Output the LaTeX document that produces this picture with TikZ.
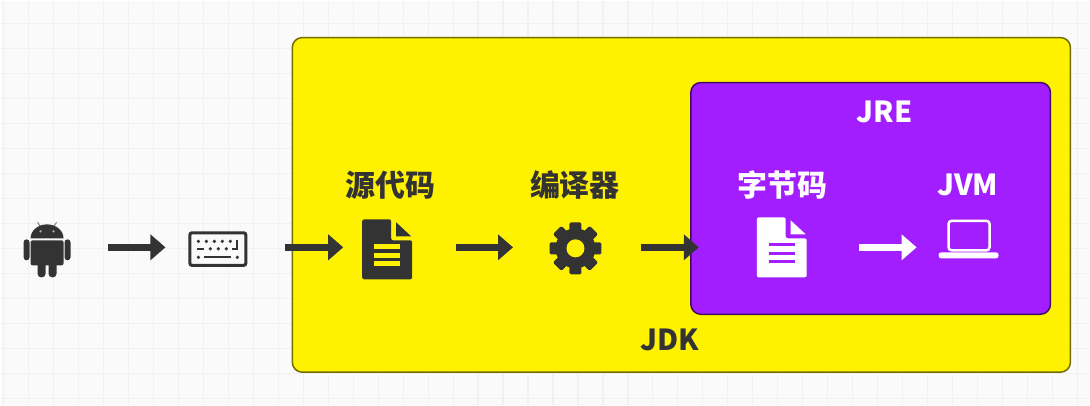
\documentclass[tikz,border=0pt]{standalone}
\usepackage{fontspec}
\newfontfamily\cjkfont{Noto Sans CJK SC}
\usetikzlibrary{arrows.meta}

\definecolor{gridbg}{HTML}{FAFAFA}
\definecolor{gridline}{HTML}{F1F1F1}
\definecolor{jdkyellow}{HTML}{FFF200}
\definecolor{jrepurple}{HTML}{A21EFF}
\definecolor{icondark}{HTML}{333333}

\tikzset{
  iconbox/.style={inner sep=0pt, outer sep=0pt, minimum height=10pt},
  boxlabel/.style={font=\cjkfont\bfseries\fontsize{30}{32}\selectfont, inner sep=0pt},
  namelabel/.style={font=\cjkfont\bfseries\fontsize{29}{31}\selectfont, inner sep=0pt},
  flowarrow/.style 2 args={line width=6.5pt, -{Triangle[length=15pt,width=25pt]},
        shorten <=#1pt, shorten >=#2pt},
}

% sheet of paper: origin, colour, colour of lines, width of lines
\newcommand{\docicon}[4]{
  \begin{scope}[shift={(#1)}]
    \fill[#2, rounded corners=2pt] (0,0) -- (29,0) -- (29,21) -- (50,21) -- (50,60) -- (0,60) -- cycle;
    \fill[#2] (34,3) -- (49,17) -- (34,17) -- cycle;
    \foreach \y in {27.5,36,44.5}
      \draw[#3, line width=#4pt] (12,\y) -- (38,\y);
  \end{scope}
}

\begin{document}
\begin{tikzpicture}[x=1pt, y=-1pt]
  \fill[gridbg] (0,0) rectangle (1090,405);

  % Grid
  \foreach \x in {3,28,...,1090}
    \draw[gridline, line width=1.2pt] (\x,0) -- (\x,405);
  \foreach \y in {23,48,...,405}
    \draw[gridline, line width=1.2pt] (0,\y) -- (1090,\y);

  % Boxes
  \draw[jdkyellow!45!black, fill=jdkyellow, line width=1.5pt, rounded corners=10pt]
        (292,37) rectangle (1071,372);
  \draw[jrepurple!40!black, fill=jrepurple, line width=1.5pt, rounded corners=10pt]
        (691,82) rectangle (1051,314);

  % Icon places
  \node[iconbox, minimum width=47pt] (android) at (46.5,247) {};
  \node[iconbox, minimum width=59pt] (keyboard) at (217.5,247) {};
  \node[iconbox, minimum width=50pt] (source) at (387,247) {};
  \node[iconbox, minimum width=51pt] (compiler) at (575.5,247) {};
  \node[iconbox, minimum width=52pt] (bytecode) at (783,247) {};
  \node[iconbox, minimum width=60pt] (jvm) at (969,247) {};

  % Labels
  \node[boxlabel, text=icondark] (sourcelabel) at (390,185) {源代码};
  \node[boxlabel, text=icondark] (compilerlabel) at (575,185) {编译器};
  \node[boxlabel, text=white] (bytecodelabel) at (783,185) {字节码};
  \node[namelabel, text=white] (jvmlabel) at (968,185) {JVM};
  \node[namelabel, text=white] (jrelabel) at (885,111) {JRE};
  \node[namelabel, text=icondark] (jdklabel) at (670,340) {JDK};

  % Android
  \draw[gray, line width=1pt] (37,222) -- (41,228);
  \draw[gray, line width=1pt] (56,222) -- (52,228);
  \fill[icondark] (30,238) arc[start angle=180, end angle=360, x radius=16.5, y radius=14] -- cycle;
  \fill[gray!70] (40,231) circle (1.3) (53,231) circle (1.3);
  \fill[icondark, rounded corners=2pt] (30,240) -- (63,240) -- (63,265) -- (30,265) -- cycle;
  \fill[icondark, rounded corners=3pt] (23,239) rectangle (29,260);
  \fill[icondark, rounded corners=3pt] (64,239) rectangle (70,260);
  \fill[icondark, rounded corners=3.5pt] (37,260) rectangle (45,277);
  \fill[icondark, rounded corners=3.5pt] (48,260) rectangle (56,277);

  % Keyboard
  \draw[icondark, fill=gridbg, line width=3pt, rounded corners=2pt] (189.5,232.5) rectangle (245.5,265);
  \foreach \x in {198,206,214,222,230}
    \fill[icondark] (\x,241) circle (1.8);
  \foreach \x in {210,218,226}
    \fill[icondark] (\x,248.5) circle (1.8);
  \fill[icondark] (198,257) circle (1.8) (237,257) circle (1.8);
  \draw[icondark, line width=2.2pt] (197,248.5) -- (204,248.5);
  \draw[icondark, line width=2.2pt] (204,257) -- (231,257);
  \draw[icondark, line width=2.2pt] (237,240) -- (237,248.5) -- (232,248.5);

  % Papers
  \docicon{362,219}{icondark}{jdkyellow}{5}
  \docicon{757,217}{white}{jrepurple}{3}

  % Gear
  \fill[icondark] (575.5,248) circle (20);
  \foreach \a in {0,45,...,315}
    \fill[icondark, rotate around={\a:(575.5,248)}, rounded corners=1.5pt]
      (569.5,222) rectangle (581.5,235);
  \fill[jdkyellow] (575.5,248) circle (9);

  % Laptop
  \draw[white, line width=2.5pt, rounded corners=3pt] (949,220.5) rectangle (990,250);
  \fill[white, rounded corners=2.5pt] (939,252) rectangle (999,258);

  % Arrows
  \draw[flowarrow={38}{23}, icondark] (android.east) -- (keyboard.west);
  \draw[flowarrow={38}{19}, icondark] (keyboard.east) -- (source.west);
  \draw[flowarrow={44}{37}, icondark] (source.east) -- (compiler.west);
  \draw[flowarrow={40}{58}, icondark] (compiler.east) -- (bytecode.west);
  \draw[flowarrow={50}{22}, white] (bytecode.east) -- (jvm.west);
\end{tikzpicture}
\end{document}
